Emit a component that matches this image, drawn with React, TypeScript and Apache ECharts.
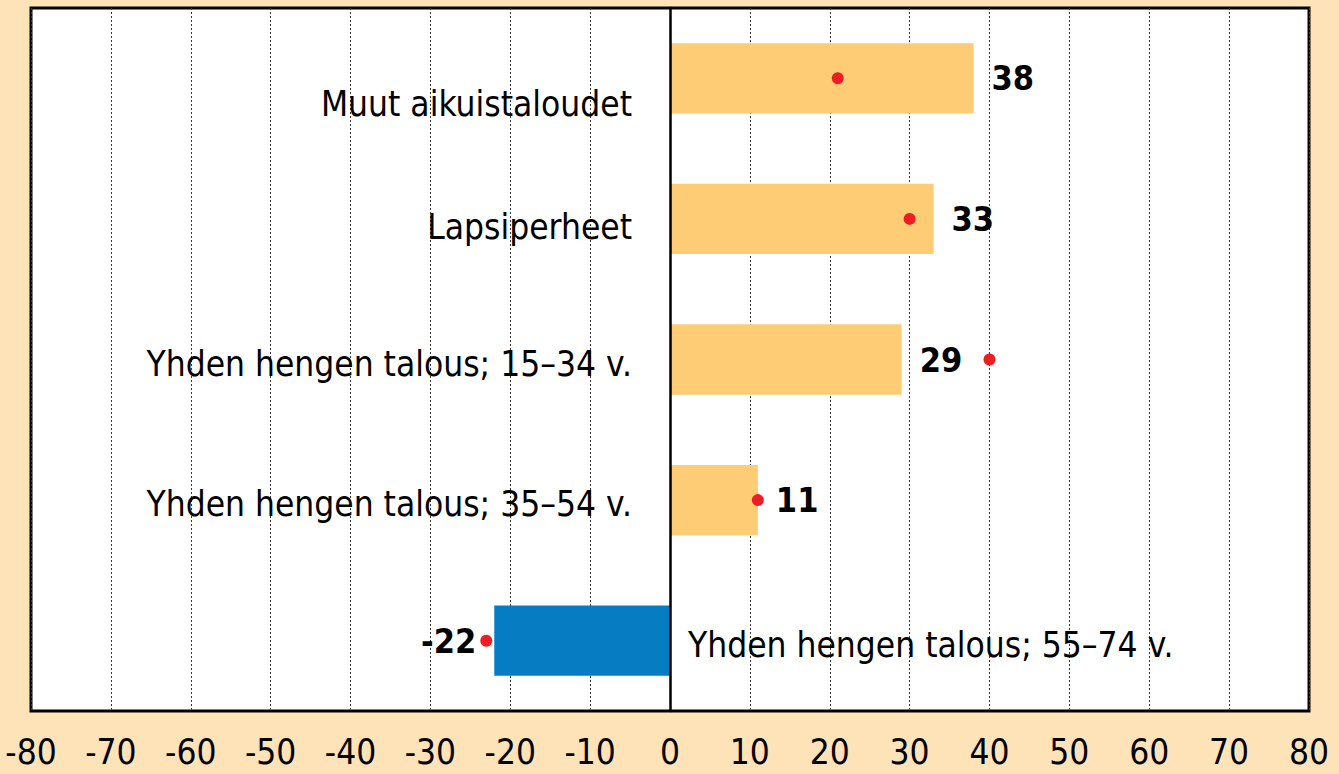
import React, { useEffect, useRef } from "react";
import * as echarts from "echarts";

const categories = [
  "Muut aikuistaloudet",
  "Lapsiperheet",
  "Yhden hengen talous; 15–34 v.",
  "Yhden hengen talous; 35–54 v.",
  "Yhden hengen talous; 55–74 v.",
];
const barValues = [38, 33, 29, 11, -22];
const dotValues = [21, 30, 40, 11, -23];
const xTicks = { min: -80, max: 80, interval: 10 };

const FONT = "'Liberation Sans Narrow', 'DejaVu Sans Condensed', 'Roboto', sans-serif";
const ORANGE = "#FDCC74";
const BLUE = "#067CC3";
const RED = "#EE1D23";
const BG = "#FEE3B9";

export default function App() {
  const ref = useRef<HTMLDivElement>(null);
  useEffect(() => {
    if (!ref.current) return;
    const chart = echarts.init(ref.current, null, { renderer: "svg" });
    const yData = [...categories].reverse();
    const barsRev = [...barValues].reverse();
    const dotsRev = [...dotValues].reverse();
    const catsRev = [...categories].reverse();
    chart.setOption({
      animation: false,
      backgroundColor: BG,
      textStyle: { fontFamily: FONT },
      grid: {
        left: 31,
        right: 30,
        top: 8,
        bottom: 63,
        show: true,
        backgroundColor: "#ffffff",
        borderColor: "#000000",
        borderWidth: 3,
        containLabel: false,
      },
      xAxis: {
        type: "value",
        min: xTicks.min,
        max: xTicks.max,
        interval: xTicks.interval,
        axisLine: { show: false },
        axisTick: { show: false },
        axisLabel: {
          color: "#000",
          fontFamily: FONT,
          fontSize: 35,
          margin: 23,
          showMinLabel: true,
          showMaxLabel: true,
        },
        splitLine: {
          show: true,
          lineStyle: { color: "#333", width: 1, type: [2, 2] },
        },
      },
      yAxis: {
        type: "category",
        data: yData,
        axisLine: { show: true, onZero: true, lineStyle: { color: "#000", width: 2.5 } },
        axisTick: { show: false },
        axisLabel: { show: false },
        splitLine: { show: false },
        z: 5,
      },
      series: [
        {
          type: "bar",
          barWidth: "50%",
          data: barsRev.map((v) => ({
            value: v,
            itemStyle: { color: v >= 0 ? ORANGE : BLUE },
            label: {
              show: true,
              position: v >= 0 ? "right" : "left",
              distance: 18,
              formatter: String(v),
              fontFamily: FONT,
              fontSize: 34,
              fontWeight: "bold",
              color: "#000",
            },
          })),
          z: 2,
        },
        {
          type: "scatter",
          symbol: "circle",
          symbolSize: 12,
          itemStyle: { color: RED, opacity: 1 },
          data: dotsRev.map((v, i) => [v, yData[i]]),
          z: 4,
        },
        {
          type: "scatter",
          symbolSize: 0,
          silent: true,
          data: catsRev.map((c, i) => ({
            value: [0, yData[i]],
            label: {
              show: true,
              formatter: c,
              position: barsRev[i] >= 0 ? "left" : "right",
              distance: barsRev[i] >= 0 ? 38 : 18,
              offset: i === catsRev.length - 1 ? [0, 26] : i === catsRev.length - 2 ? [0, 8] : [0, 4],
              fontFamily: FONT,
              fontSize: 35,
              color: "#000",
              opacity: 1,
            },
          })),
          z: 3,
        },
      ],
    });
    return () => chart.dispose();
  }, []);
  return (
    <div
      ref={ref}
      style={{ position: "absolute", left: 0, top: 0, width: 1339, height: 774 }}
    />
  );
}
